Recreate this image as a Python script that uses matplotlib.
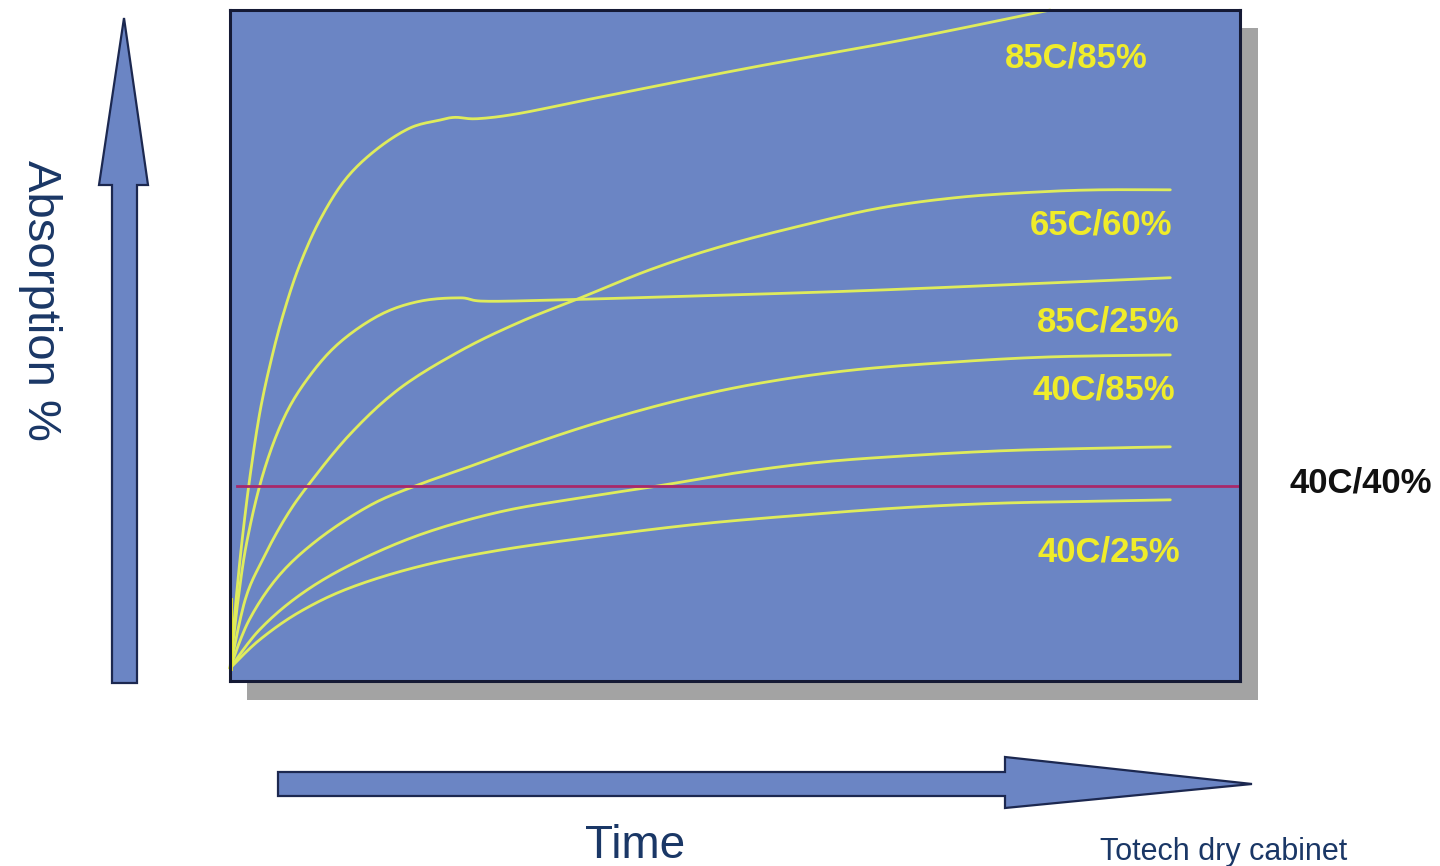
import numpy as np
import matplotlib
matplotlib.use("Agg")
import matplotlib.pyplot as plt
from matplotlib.patches import Polygon, Rectangle

# ---------------- data (time %, absorption %) ----------------
t_85_85 = [0, 0.6, 1.2, 2.0, 3.0, 4.2, 5.4, 6.9, 8.9, 11.4, 14.4, 17.8, 20.8, 22.3, 24.5, 28.7, 36.6, 51.5, 66.5, 81.2]
a_85_85 = [1.9, 12.1, 21.0, 30.7, 40.4, 48.6, 55.3, 62.0, 68.7, 74.7, 79.1, 82.4, 83.6, 84.0, 83.8, 84.6, 87.0, 91.4, 95.5, 100]

t_85_25 = [0, 0.8, 1.7, 3.3, 5.4, 7.9, 10.9, 14.9, 18.8, 22.8, 25.2, 32.7, 46.5, 61.4, 76.2, 93.1]
a_85_25 = [1.9, 12.1, 21.0, 31.0, 39.4, 45.5, 50.5, 54.6, 56.6, 57.1, 56.6, 56.8, 57.4, 58.1, 59.0, 60.1]

t_65_60 = [0, 1.5, 3.2, 5.4, 7.7, 11.9, 16.8, 22.8, 28.7, 34.7, 41.6, 48.5, 56.4, 64.4, 72.3, 80.2, 86.1, 93.1]
a_65_60 = [1.9, 12.1, 18.0, 24.1, 29.1, 36.8, 43.6, 49.2, 53.5, 57.1, 61.3, 64.7, 67.8, 70.5, 72.1, 72.9, 73.2, 73.2]

t_40_85 = [0, 1.9, 4.9, 8.9, 13.9, 18.4, 23.8, 29.7, 36.6, 44.6, 52.5, 61.4, 71.3, 81.2, 93.1]
a_40_85 = [1.9, 9.1, 15.8, 21.3, 26.2, 29.1, 32.0, 35.2, 38.6, 41.9, 44.4, 46.3, 47.5, 48.3, 48.6]

t_mid = [0, 2.9, 6.9, 11.9, 18.8, 26.7, 34.7, 42.5, 50.5, 58.4, 66.3, 76.2, 86.1, 93.1]
a_mid = [1.9, 7.6, 12.8, 17.3, 21.8, 25.2, 27.3, 29.1, 31.1, 32.6, 33.5, 34.3, 34.7, 34.9]

t_40_25 = [0, 2.9, 6.9, 11.9, 18.8, 26.7, 36.6, 46.5, 56.4, 66.3, 76.2, 86.1, 93.1]
a_40_25 = [1.9, 6.1, 10.3, 13.9, 17.1, 19.5, 21.6, 23.4, 24.7, 25.8, 26.5, 26.8, 27.0]

ref_level = 29.1          # 40C/40% line
ref_t = [0.7, 100]

labels = ["85C/85%", "65C/60%", "85C/25%", "40C/85%", "40C/25%"]
label_t = [83.8, 86.2, 87.0, 86.5, 87.0]
label_a = [92.8, 68.0, 53.5, 43.4, 19.2]
ref_label = "40C/40%"
ref_label_t = 112.0
ref_label_a = 29.5

x_title = "Time"
y_title = "Absorption %"
credit = "Totech dry cabinet"

# ---------------- helpers ----------------
def smooth(x, y, n=12):
    x = np.asarray(x, float); y = np.asarray(y, float)
    P = np.column_stack([x, y])
    P = np.vstack([P[0], P, P[-1]])
    out = []
    for i in range(1, len(P) - 2):
        p0, p1, p2, p3 = P[i - 1], P[i], P[i + 1], P[i + 2]
        s = np.linspace(0, 1, n, endpoint=False)[:, None]
        pts = 0.5 * ((2 * p1) + (-p0 + p2) * s + (2 * p0 - 5 * p1 + 4 * p2 - p3) * s**2
                     + (-p0 + 3 * p1 - 3 * p2 + p3) * s**3)
        out.append(pts)
    out.append(P[-2][None, :])
    out = np.vstack(out)
    return out[:, 0], out[:, 1]

W, H = 1440, 866
fig = plt.figure(figsize=(W / 100, H / 100), dpi=100)
fig.patch.set_facecolor("white")

# overlay in pixel coordinates for decorations
ov = fig.add_axes([0, 0, 1, 1], zorder=0)
ov.set_xlim(0, W); ov.set_ylim(H, 0); ov.axis("off")

blue = "#6b85c4"
edge = "#1c2850"
navy = "#1a3766"

# shadow
ov.add_patch(Rectangle((247, 28), 1258 - 247, 700 - 28, facecolor="#a3a3a3", edgecolor="none"))

# vertical arrow
va = [(112, 683), (137, 683), (137, 185), (148, 185), (124, 18), (99, 185), (112, 185)]
ov.add_patch(Polygon(va, closed=True, facecolor=blue, edgecolor=edge, lw=1.6))
# horizontal arrow
ha = [(278, 772), (1005, 772), (1005, 757), (1252, 784), (1005, 808), (1005, 796), (278, 796)]
ov.add_patch(Polygon(ha, closed=True, facecolor=blue, edgecolor=edge, lw=1.6))

ov.text(40, 300, y_title, rotation=270, ha="center", va="center",
        fontsize=34, color=navy, family="Liberation Sans")
ov.text(635, 858, x_title, ha="center", va="baseline",
        fontsize=33, color=navy, family="Liberation Sans")
ov.text(1100, 860, credit, ha="left", va="baseline",
        fontsize=22, color=navy, family="Liberation Sans")

# main chart
ax = fig.add_axes([230 / W, (H - 681) / H, 1010 / W, 671 / H], zorder=1)
ax.set_facecolor(blue)
ax.set_xlim(0, 100); ax.set_ylim(0, 100)
ax.set_xticks([]); ax.set_yticks([])
for s in ax.spines.values():
    s.set_color("#151a35"); s.set_linewidth(2.2)

curve_color = "#dfec5c"
for tx, ay in [(t_85_85, a_85_85), (t_85_25, a_85_25), (t_65_60, a_65_60),
               (t_40_85, a_40_85), (t_mid, a_mid), (t_40_25, a_40_25)]:
    xs, ys = smooth(tx, ay)
    ax.plot(xs, ys, color=curve_color, lw=2.0, solid_capstyle="round", clip_on=False)

ax.plot([0, 0], [1.9, 12], color="#f2f020", lw=3.5)
ax.plot(ref_t, [ref_level, ref_level], color="#a8286a", lw=2.0, clip_on=False)

for lab, lt, la in zip(labels, label_t, label_a):
    ax.text(lt, la, lab, ha="center", va="center", fontsize=25, fontweight="bold",
            color="#f0ec2a", family="Liberation Sans")
ax.text(ref_label_t, ref_label_a, ref_label, ha="center", va="center", fontsize=25,
        fontweight="bold", color="#111111", family="Liberation Sans", clip_on=False)

fig.savefig("out.png", dpi=100, facecolor="white")
